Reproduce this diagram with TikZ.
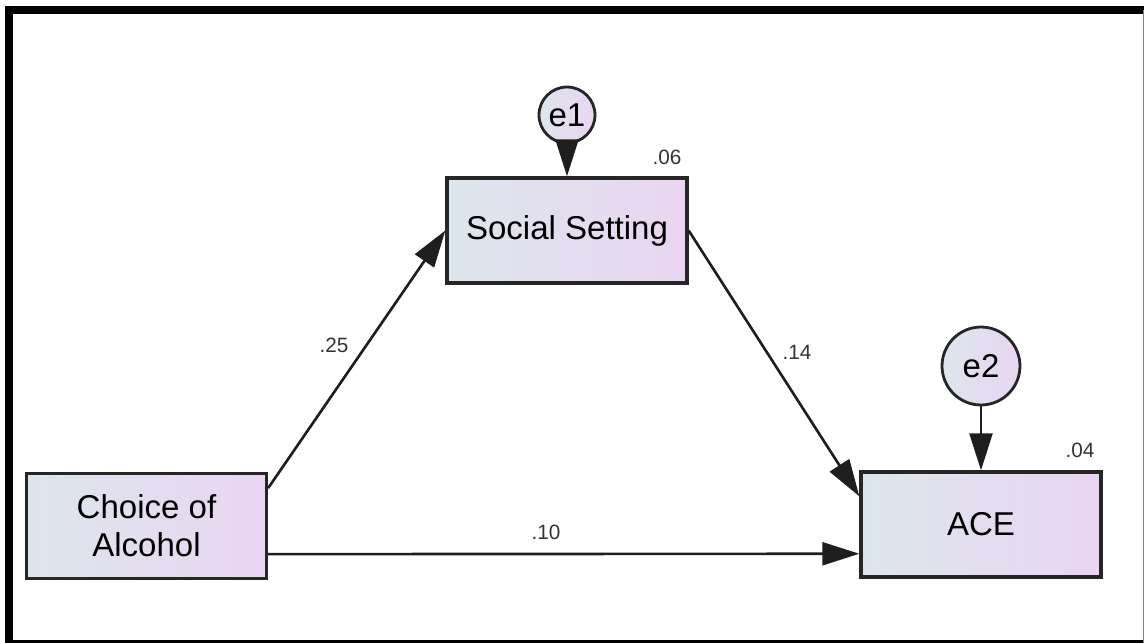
\documentclass[tikz,border=0pt]{standalone}
\usepackage{fontspec}
\setmainfont{Liberation Sans}
\usetikzlibrary{arrows.meta,calc}
\definecolor{boxleft}{RGB}{221,230,236}
\definecolor{boxright}{RGB}{234,213,242}
\definecolor{linegray}{RGB}{30,30,30}

\begin{document}
\begin{tikzpicture}[x=0.02cm, y=-0.02cm,
  every node/.style={font=\fontsize{18.8}{21.6}\selectfont},
  var/.style={draw=black!85, line width=1.9pt, left color=boxleft, right color=boxright,
    minimum width=4.8cm, minimum height=2.1cm, align=center, inner sep=0pt},
  err/.style={circle, draw=black!85, line width=1.6pt, left color=boxleft, right color=boxright, inner sep=0pt},
  coef/.style={font=\fontsize{11.8}{13}\selectfont, text=black!80},
  reg/.style={-{Triangle[length=21pt,width=13pt]}, line width=1.5pt, draw=linegray}]
  \useasboundingbox (0,0) rectangle (1144,643);

  % outer frame
  \draw[line width=4.55pt] (1144,10) -- (9,10) -- (9,648);
  \draw[line width=4.55pt] (5,644) -- (1144,644);
  \draw[black!50, line width=0.8pt] (1143.3,10) -- (1143.3,643);

  % observed variables
  \node[var] (choice) at (146.5,526) {Choice of\\Alcohol};
  \node[var] (social) at (567,230.5) {Social Setting};
  \node[var] (ace) at (981,524.5) {ACE};

  % error terms
  \node[err, minimum size=1.12cm] (e1) at (567,115) {e1};
  \node[err, minimum size=1.56cm] (e2) at (981,366) {e2};

  % paths
  \draw[reg] ($(choice.north east)!0.15!(choice.south east)$) -- (social.west);
  \draw[reg] (social.east) -- ($(ace.north west)!0.24!(ace.south west)$);
  \draw[reg] ($(choice.north east)!0.76!(choice.south east)$) -- ($(ace.north west)!0.77!(ace.south west)$);
  \draw[reg] (e1.south) -- (social.north);
  \draw[reg] (e2.south) -- (ace.north);

  % estimates
  \node[coef] (r2social) at (667,157) {.06};
  \node[coef] (r2ace) at (1080,450) {.04};
  \node[coef] (bcs) at (334,345) {.25};
  \node[coef] (bsa) at (797,352) {.14};
  \node[coef] (bca) at (546,532) {.10};
\end{tikzpicture}
\end{document}
